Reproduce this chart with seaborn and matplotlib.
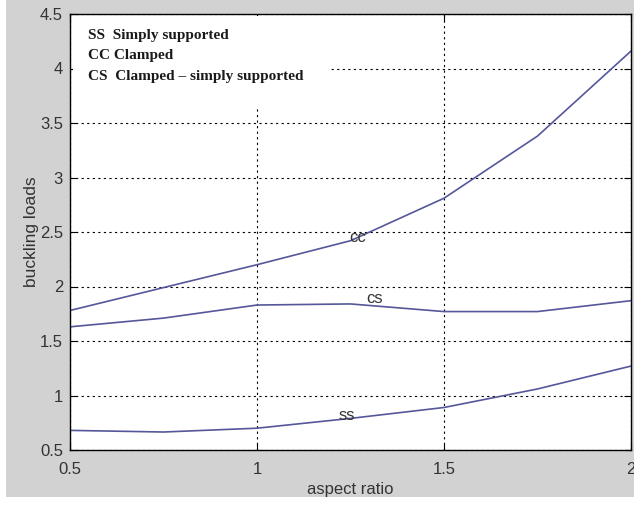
import matplotlib
matplotlib.use("Agg")
import matplotlib.pyplot as plt
import seaborn as sns
import pandas as pd

# data
aspect_ratio = [0.5, 0.75, 1.0, 1.25, 1.5, 1.75, 2.0]
load_cc = [1.78, 1.99, 2.20, 2.42, 2.81, 3.38, 4.16]
load_cs = [1.63, 1.71, 1.83, 1.84, 1.77, 1.77, 1.87]
load_ss = [0.68, 0.665, 0.70, 0.79, 0.89, 1.06, 1.27]
legend_lines = ["SS  Simply supported", "CC Clamped", "CS  Clamped \u2013 simply supported"]

df = pd.DataFrame({
    "aspect ratio": aspect_ratio * 3,
    "buckling loads": load_cc + load_cs + load_ss,
    "case": ["cc"] * 7 + ["cs"] * 7 + ["ss"] * 7,
})

sns.set_style("ticks")
plt.rcParams["font.family"] = ["Liberation Sans", "DejaVu Sans"]

gray = "#d2d2d2"
line_col = "#55579a"
txt_col = "#333333"

fig = plt.figure(figsize=(6.34, 5.05), dpi=100, facecolor=gray)
ax = fig.add_axes([70 / 634, 1 - 450 / 505, 561 / 634, 436 / 505])
ax.set_facecolor("white")

sns.lineplot(data=df, x="aspect ratio", y="buckling loads", units="case",
             estimator=None, color=line_col, linewidth=1.2, ax=ax)

ax.set_xlim(0.5, 2)
ax.set_ylim(0.5, 4.5)
ax.set_xticks([0.5, 1, 1.5, 2])
ax.set_xticklabels(["0.5", "1", "1.5", "2"])
ax.set_yticks([0.5, 1, 1.5, 2, 2.5, 3, 3.5, 4, 4.5])
ax.set_yticklabels(["0.5", "1", "1.5", "2", "2.5", "3", "3.5", "4", "4.5"])
ax.grid(True, color="black", linestyle=(0, (2, 3)), linewidth=0.8)
ax.set_axisbelow(True)
ax.tick_params(direction="in", length=5, width=0.8, colors="black",
               labelcolor=txt_col, labelsize=12, top=True, right=True)
ax.tick_params(axis="x", pad=9)
ax.tick_params(axis="y", pad=5)
for s in ax.spines.values():
    s.set_color("black")
    s.set_linewidth(1.0)

ax.set_xlabel("aspect ratio", fontsize=12, color=txt_col, labelpad=3)
ax.set_ylabel("buckling loads", fontsize=12.5, color=txt_col, labelpad=1)

# white box behind the key text, hiding the grid there
ax.add_patch(plt.Rectangle((0.508, 3.64), 0.69, 0.84, facecolor="white",
                           edgecolor="none", zorder=1.2))
for i, t in enumerate(legend_lines):
    ax.text(0.548, 4.30 - i * 0.185, t, fontsize=11, fontweight="bold",
            family=["Liberation Serif", "DejaVu Serif"], color="#1a1a1a",
            va="center", ha="left", zorder=3)

# inline curve labels
ax.text(1.27, 2.45, "cc", fontsize=12, color=txt_col, ha="center", va="center")
ax.text(1.315, 1.89, "cs", fontsize=12, color=txt_col, ha="center", va="center")
ax.text(1.24, 0.82, "ss", fontsize=12, color=txt_col, ha="center", va="center")

# white margins at left and bottom of the picture
fig.patches.append(plt.Rectangle((0, 0), 6 / 634, 1, transform=fig.transFigure,
                                 facecolor="white", edgecolor="none", zorder=-1))
fig.patches.append(plt.Rectangle((0, 0), 1, 8 / 505, transform=fig.transFigure,
                                 facecolor="white", edgecolor="none", zorder=-1))

fig.savefig("out.png", dpi=100, facecolor=gray)
